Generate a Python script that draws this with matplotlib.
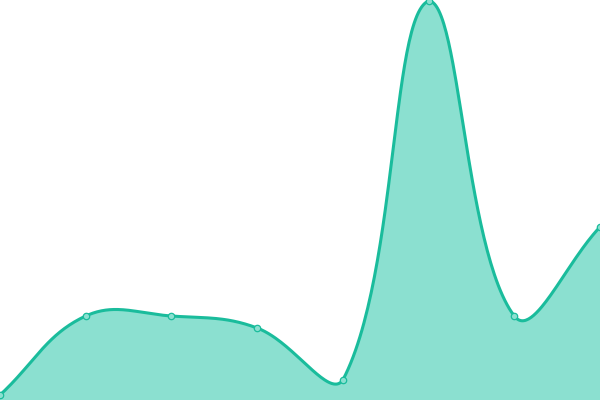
import numpy as np
import matplotlib
matplotlib.use("Agg")
import matplotlib.pyplot as plt

categories = ["A", "B", "C", "D", "E", "F", "G", "H"]
values = [5, 84, 84, 72, 20, 399, 84, 173]

LINE = "#1abc9c"
FILL = "#8be0d0"
W, H = 600, 400

def spline(xs, ys, tension=0.4, n=60):
    P = np.column_stack([xs, ys]).astype(float)
    N = len(P)
    cp_prev = np.zeros_like(P); cp_next = np.zeros_like(P)
    for i in range(N):
        pr = P[max(i-1, 0)]; cu = P[i]; nx = P[min(i+1, N-1)]
        d01 = np.linalg.norm(cu - pr); d12 = np.linalg.norm(nx - cu)
        tot = d01 + d12
        s01 = d01/tot if tot else 0; s12 = d12/tot if tot else 0
        fa = tension*s01; fb = tension*s12
        cp_prev[i] = cu - fa*(nx - pr)
        cp_next[i] = cu + fb*(nx - pr)
    lo = np.array([0, 0]); hi = np.array([W, H])
    cp_prev = np.clip(cp_prev, lo, hi); cp_next = np.clip(cp_next, lo, hi)
    t = np.linspace(0, 1, n)[:, None]
    out = []
    for i in range(N-1):
        p1, c1, c2, p2 = P[i], cp_next[i], cp_prev[i+1], P[i+1]
        seg = (1-t)**3*p1 + 3*(1-t)**2*t*c1 + 3*(1-t)*t**2*c2 + t**3*p2
        out.append(seg if i == N-2 else seg[:-1])
    out = np.vstack(out)
    return out[:, 0], out[:, 1]

x = np.arange(len(values)) * W / (len(values) - 1)
# work in screen coordinates (y downward) for control point geometry
sx, sy_down = spline(x, H - np.asarray(values, float))
sy = H - sy_down

fig = plt.figure(figsize=(6, 4), dpi=100)
ax = fig.add_axes([0, 0, 1, 1])
ax.fill_between(sx, 0, sy, color=FILL, linewidth=0)
ax.plot(sx, sy, color=LINE, linewidth=2.2, solid_capstyle="round")
ax.plot(x, values, linestyle="none", marker="o", markersize=4.6,
        markerfacecolor=FILL, markeredgecolor=LINE, markeredgewidth=0.9, clip_on=False)
ax.set_xlim(0, W)
ax.set_ylim(0, H)
ax.axis("off")
fig.savefig("out.png", dpi=100)
